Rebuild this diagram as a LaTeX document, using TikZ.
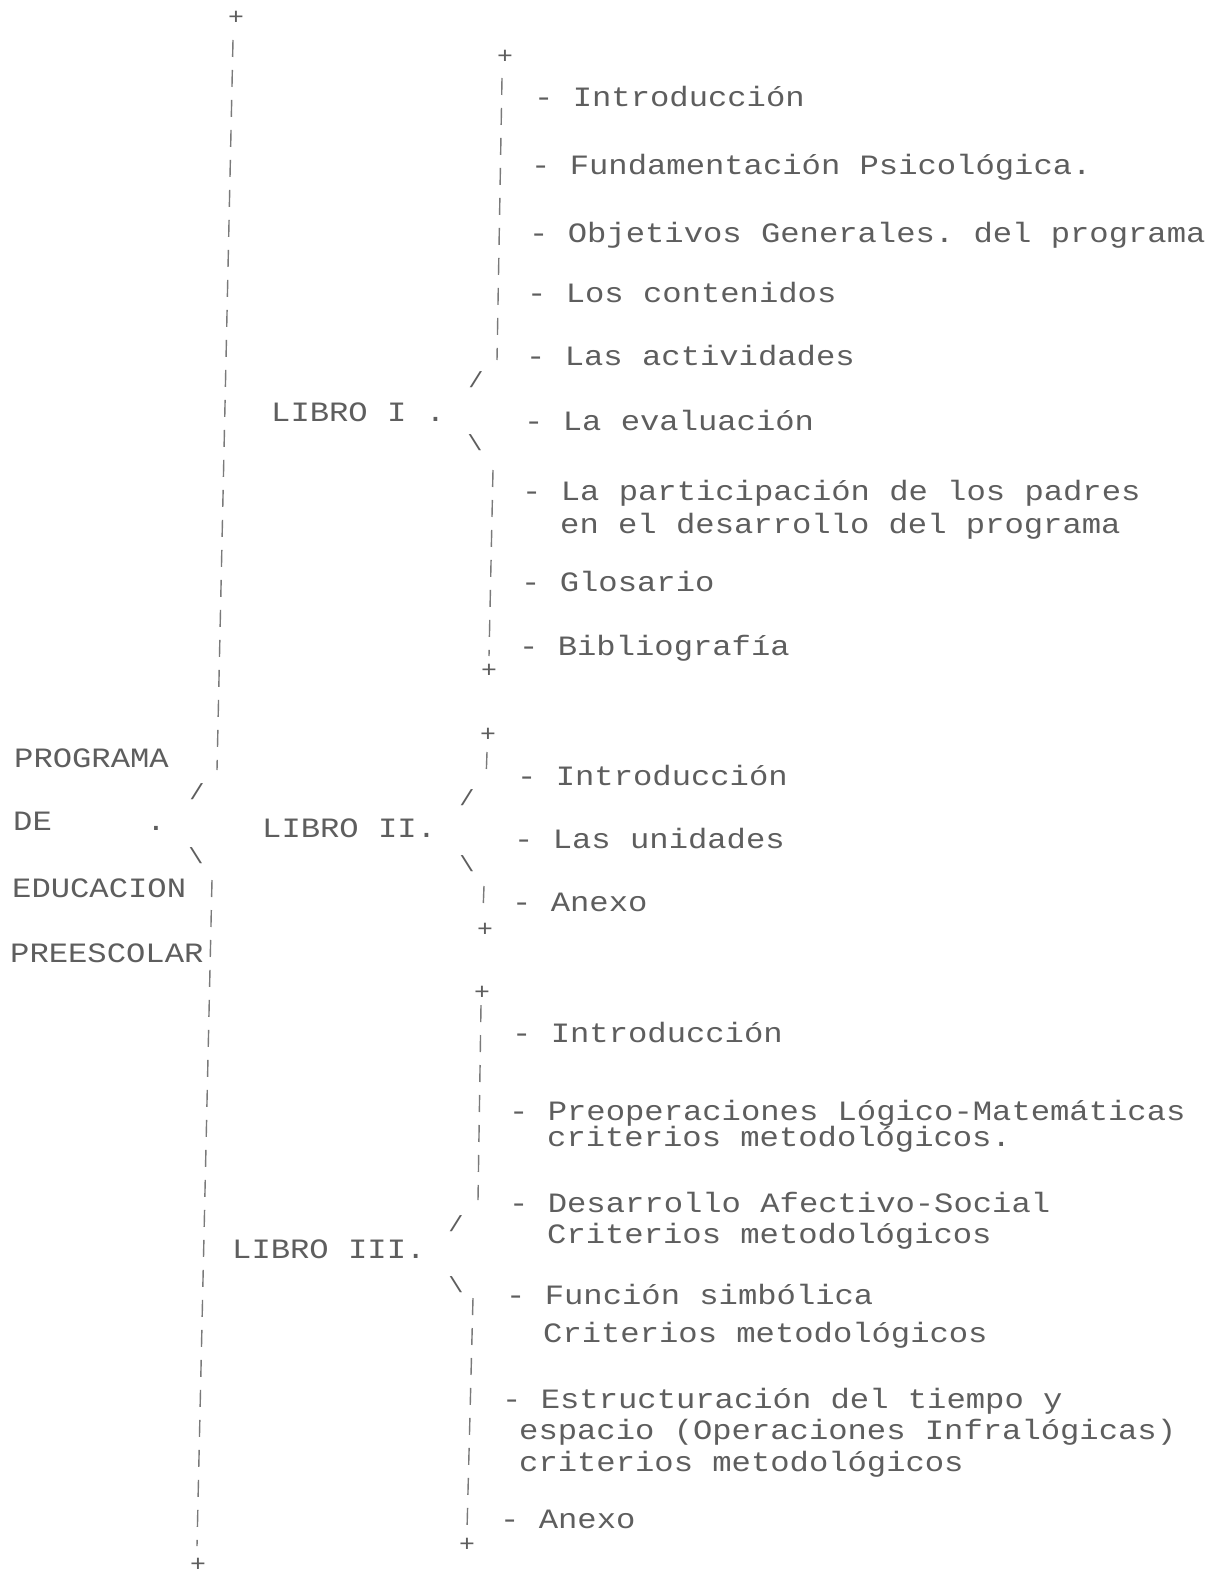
\documentclass[tikz,border=0pt]{standalone}
\usepackage{fontspec}
\setmainfont[FakeStretch=1.15]{Liberation Mono}
\frenchspacing
\definecolor{ink}{HTML}{5E5E5E}
\definecolor{rulecol}{HTML}{7A7A7A}
\begin{document}
\begin{tikzpicture}[x=1pt,y=-1pt,
  txt/.style={anchor=base west, inner sep=0pt, text=ink, font=\fontsize{28}{32}\selectfont},
  plus/.style={inner sep=0pt, text=ink, font=\fontsize{23}{26}\selectfont},
  dotmark/.style={inner sep=0pt, text=ink, font=\fontsize{28}{32}\selectfont},
  slashmark/.style={inner sep=0pt, text=ink, font=\fontsize{22}{26}\selectfont},
  brace/.style={draw=rulecol, line width=1.4pt, dash pattern=on 17pt off 13pt}]
\fill[white] (0,0) rectangle (1222,1578);
\useasboundingbox (0,0) rectangle (1222,1578);

% ---- left title ----
\node[txt] (t1) at (14,767) {PROGRAMA};
\node[txt] (t2) at (13,830) {DE};
\node[dotmark] (t2dot) at (156,828) {.};
\node[txt] (t3) at (12,897) {EDUCACION};
\node[txt] (t4) at (10,962) {PREESCOLAR};

% main brace
\node[plus] (mtop) at (236,18) {+};
\node[plus] (mbot) at (198,1565) {+};
\coordinate (m1) at (233,40);
\coordinate (m2) at (217,770);
\coordinate (m3) at (212,880);
\coordinate (m4) at (197,1546);
\draw[brace] (m1) -- (m2);
\draw[brace] (m3) -- (m4);
\node[slashmark] (ms1) at (197,792) {/};
\node[slashmark] (ms2) at (196,856) {\textbackslash};

% ---- LIBRO I ----
\node[txt] (l1) at (271,421) {LIBRO I .};
\node[slashmark] (l1s1) at (476,380) {/};
\node[slashmark] (l1s2) at (475,443) {\textbackslash};
\node[plus] (l1top) at (505,57) {+};
\node[plus] (l1bot) at (489,671) {+};
\coordinate (a1) at (502,78);
\coordinate (a2) at (497,360);
\coordinate (a3) at (493,470);
\coordinate (a4) at (489,656);
\draw[brace] (a1) -- (a2);
\draw[brace] (a3) -- (a4);
\node[txt] (i11) at (534,107) {- Introducción};
\node[txt] (i12) at (531,175) {- Fundamentación Psicológica.};
\node[txt] (i13) at (529,243) {- Objetivos Generales. del programa};
\node[txt] (i14) at (527,303) {- Los contenidos};
\node[txt] (i15) at (526,365) {- Las actividades};
\node[txt] (i16) at (524,430) {- La evaluación};
\node[txt] (i17) at (522,500) {- La participación de los padres};
\node[txt] (i17b) at (560,533) {en el desarrollo del programa};
\node[txt] (i18) at (521,591) {- Glosario};
\node[txt] (i19) at (519,655) {- Bibliografía};

% ---- LIBRO II ----
\node[txt] (l2) at (262,837) {LIBRO II.};
\node[slashmark] (l2s1) at (467,798) {/};
\node[slashmark] (l2s2) at (467,864) {\textbackslash};
\node[plus] (l2top) at (488,735) {+};
\node[plus] (l2bot) at (485,930) {+};
\coordinate (b1) at (487,752);
\coordinate (b2) at (486,780);
\coordinate (b3) at (484,886);
\coordinate (b4) at (483,912);
\draw[brace] (b1) -- (b2);
\draw[brace] (b3) -- (b4);
\node[txt] (i21) at (517,785) {- Introducción};
\node[txt] (i22) at (514,848) {- Las unidades};
\node[txt] (i23) at (512,911) {- Anexo};

% ---- LIBRO III ----
\node[txt] (l3) at (232,1258) {LIBRO III.};
\node[slashmark] (l3s1) at (456,1224) {/};
\node[slashmark] (l3s2) at (456,1285) {\textbackslash};
\node[plus] (l3top) at (482,993) {+};
\node[plus] (l3bot) at (467,1545) {+};
\coordinate (c1) at (481,1005);
\coordinate (c2) at (478,1200);
\coordinate (c3) at (473,1298);
\coordinate (c4) at (467,1530);
\draw[brace] (c1) -- (c2);
\draw[brace] (c3) -- (c4);
\node[txt] (i31) at (512,1042) {- Introducción};
\node[txt] (i32) at (509,1120) {- Preoperaciones Lógico-Matemáticas};
\node[txt] (i32b) at (547,1146) {criterios metodológicos.};
\node[txt] (i33) at (509,1212) {- Desarrollo Afectivo-Social};
\node[txt] (i33b) at (547,1243) {Criterios metodológicos};
\node[txt] (i34) at (506,1304) {- Función simbólica};
\node[txt] (i34b) at (543,1342) {Criterios metodológicos};
\node[txt] (i35) at (502,1408) {- Estructuración del tiempo y};
\node[txt] (i35b) at (519,1439) {espacio (Operaciones Infralógicas)};
\node[txt] (i35c) at (519,1471) {criterios metodológicos};
\node[txt] (i36) at (500,1528) {- Anexo};
\end{tikzpicture}
\end{document}
